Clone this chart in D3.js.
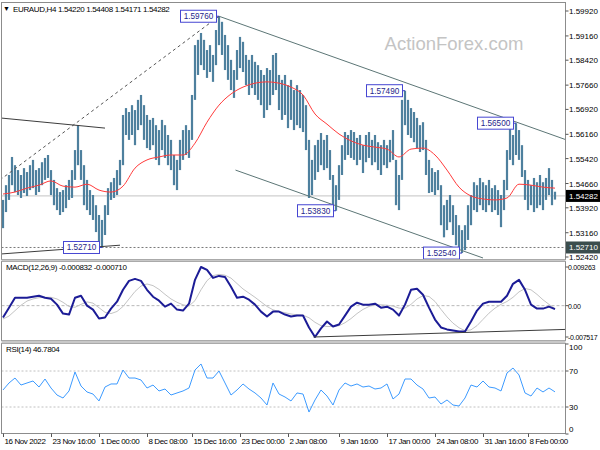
<!DOCTYPE html>
<html><head><meta charset="utf-8">
<script src="https://cdn.jsdelivr.net/npm/d3@7/dist/d3.min.js"></script>
<style>
html,body{margin:0;padding:0;background:#fff;}
svg{display:block;font-family:"Liberation Sans",Arial,sans-serif;}
</style></head><body>
<svg id="c" width="600" height="450"></svg>
<script>
// ---------- DATA ----------
const symbolTitle = "EURAUD,H4";
const lastOHLC = [1.54220, 1.54408, 1.54171, 1.54282];
const highs = [1.5416,1.5461,1.5492,1.5547,1.5522,1.5507,1.5492,1.5513,1.5501,1.5522,
1.5538,1.5507,1.5513,1.5531,1.5544,1.5553,1.5507,1.5477,1.5452,1.5440,
1.5446,1.5461,1.5477,1.5507,1.5568,1.5644,1.5568,1.5522,1.5477,1.5446,
1.5431,1.5400,1.5370,1.5355,1.5400,1.5452,1.5470,1.5483,1.5507,1.5538,
1.5675,1.5696,1.5684,1.5705,1.5690,1.5721,1.5736,1.5705,1.5675,1.5660,
1.5666,1.5644,1.5629,1.5660,1.5644,1.5614,1.5599,1.5553,1.5538,1.5599,
1.5629,1.5644,1.5629,1.5736,1.5888,1.5904,1.5925,1.5904,1.5873,1.5888,
1.5858,1.5934,1.5976,1.5959,1.5919,1.5888,1.5843,1.5812,1.5873,1.5913,
1.5898,1.5858,1.5843,1.5858,1.5837,1.5827,1.5812,1.5797,1.5818,1.5812,
1.5858,1.5864,1.5797,1.5782,1.5797,1.5766,1.5782,1.5751,1.5766,1.5751,
1.5736,1.5705,1.5599,1.5538,1.5583,1.5599,1.5620,1.5599,1.5614,1.5568,
1.5492,1.5461,1.5522,1.5583,1.5623,1.5614,1.5629,1.5623,1.5605,1.5614,
1.5583,1.5614,1.5623,1.5599,1.5614,1.5592,1.5583,1.5599,1.5583,1.5599,
1.5629,1.5538,1.5492,1.5721,1.5749,1.5721,1.5696,1.5684,1.5666,1.5644,
1.5653,1.5599,1.5538,1.5513,1.5501,1.5507,1.5461,1.5400,1.5416,1.5431,
1.5400,1.5370,1.5339,1.5324,1.5339,1.5400,1.5431,1.5470,1.5461,1.5483,
1.5470,1.5461,1.5477,1.5452,1.5461,1.5446,1.5431,1.5477,1.5568,1.5635,
1.5614,1.5650,1.5629,1.5583,1.5507,1.5477,1.5461,1.5483,1.5470,1.5492,
1.5470,1.5483,1.5513,1.5477,1.5441];
const lows = [1.5330,1.5379,1.5416,1.5461,1.5440,1.5431,1.5422,1.5437,1.5428,1.5446,
1.5452,1.5431,1.5440,1.5461,1.5477,1.5483,1.5431,1.5400,1.5385,1.5370,
1.5379,1.5391,1.5416,1.5422,1.5477,1.5522,1.5477,1.5400,1.5385,1.5370,
1.5355,1.5318,1.5278,1.5271,1.5309,1.5370,1.5416,1.5422,1.5431,1.5461,
1.5522,1.5614,1.5599,1.5614,1.5583,1.5629,1.5644,1.5599,1.5574,1.5568,
1.5583,1.5538,1.5522,1.5568,1.5544,1.5522,1.5507,1.5461,1.5446,1.5507,
1.5538,1.5553,1.5544,1.5599,1.5721,1.5797,1.5827,1.5812,1.5788,1.5806,
1.5776,1.5827,1.5888,1.5858,1.5812,1.5782,1.5751,1.5727,1.5782,1.5818,
1.5806,1.5766,1.5736,1.5757,1.5736,1.5721,1.5705,1.5666,1.5690,1.5705,
1.5736,1.5751,1.5690,1.5660,1.5675,1.5635,1.5660,1.5629,1.5644,1.5635,
1.5623,1.5568,1.5422,1.5431,1.5477,1.5501,1.5522,1.5507,1.5513,1.5477,
1.5400,1.5383,1.5416,1.5492,1.5538,1.5553,1.5544,1.5538,1.5522,1.5538,
1.5498,1.5531,1.5544,1.5522,1.5531,1.5507,1.5492,1.5522,1.5513,1.5531,
1.5538,1.5400,1.5385,1.5477,1.5644,1.5614,1.5605,1.5592,1.5574,1.5562,
1.5568,1.5492,1.5437,1.5440,1.5431,1.5446,1.5339,1.5302,1.5324,1.5348,
1.5309,1.5278,1.5263,1.5254,1.5263,1.5294,1.5339,1.5385,1.5379,1.5400,
1.5385,1.5379,1.5400,1.5379,1.5385,1.5370,1.5333,1.5385,1.5446,1.5538,
1.5522,1.5553,1.5538,1.5486,1.5416,1.5385,1.5400,1.5379,1.5391,1.5400,
1.5385,1.5416,1.5431,1.5400,1.5417];
// moving average, one value every 4 bars
const emaStep = 4;
const ema = [1.5434,1.5440,1.5452,1.5461,1.5474,1.5458,1.5455,1.5464,1.5446,1.5440,
1.5458,1.5513,1.5538,1.5547,1.5553,1.5553,1.5589,1.5653,1.5705,1.5739,
1.5760,1.5772,1.5776,1.5772,1.5760,1.5736,1.5678,1.5647,1.5617,1.5596,
1.5583,1.5577,1.5571,1.5547,1.5571,1.5574,1.5553,1.5507,1.5455,1.5428,
1.5419,1.5416,1.5422,1.5464,1.5461,1.5455,1.5452];
// MACD(12,26,9) and RSI(14), one value every 2 bars
const oscStep = 2;
const macd = [-0.00285,-0.00048,0.0019,0.0019,0.0019,0.00214,0.00238,0.0019,0.00166,0.00024,
-0.0019,-0.00214,0.0019,0.00238,0,-0.00095,-0.00309,-0.00285,-0.00071,0.00095,
0.0038,0.00594,0.00641,0.00594,0.0038,0.00214,0.00119,-0.00024,0.00048,-0.00095,
-0.00119,0.00048,0.00618,0.00926,0.00855,0.00665,0.00713,0.00689,0.00451,0.0019,
0.00214,0.00143,0.00024,-0.00143,-0.00261,-0.00143,-0.00143,-0.00214,-0.00261,-0.00238,
-0.00238,-0.00523,-0.00752,-0.00546,-0.0038,-0.00499,-0.00451,-0.00238,-0.00024,0.00071,
0.00024,0.00024,0.00048,-0.00048,-0.00024,-0.00095,-0.00238,0.00024,0.0038,0.00404,
0.00261,-0.00048,-0.00333,-0.00523,-0.0057,-0.00594,-0.00618,-0.00618,-0.0038,-0.00119,
0.00048,0.00095,0.00095,0.00095,0.00238,0.00523,0.00618,0.0038,0.00024,-0.00071,
-0.00071,-0.00024,-0.00083];
const signal = [-0.0032,-0.0025,-0.0012,0.0001,0.0011,0.0016,0.0019,0.0020,0.0020,0.0016,
0.0008,-0.0002,-0.0004,0.0003,0.0009,0.0006,-0.0005,-0.0016,-0.0019,-0.0014,
-0.0002,0.0016,0.0034,0.0047,0.0052,0.0048,0.0039,0.0027,0.0016,0.0008,
0.0002,-0.0001,0.0012,0.0038,0.0060,0.0072,0.0075,0.0073,0.0066,0.0053,
0.0040,0.0030,0.0020,0.0009,-0.0002,-0.0010,-0.0014,-0.0017,-0.0020,-0.0022,
-0.0023,-0.0029,-0.0040,-0.0048,-0.0050,-0.0050,-0.0048,-0.0041,-0.0031,-0.0019,
-0.0009,-0.0002,0.0002,0.0002,0.0001,-0.0001,-0.0006,-0.0006,0.0003,0.0016,
0.0024,0.0022,0.0010,-0.0009,-0.0027,-0.0042,-0.0053,-0.0060,-0.0058,-0.0048,
-0.0033,-0.0018,-0.0006,0.0003,0.0010,0.0020,0.0033,0.0041,0.0038,0.0027,
0.0014,0.0003,-0.0007];
const rsi = [48.9,56.7,62.2,54.4,56.7,58.9,52.2,61.1,51.1,43.3,
40.0,47.8,68.9,53.3,46.7,44.4,36.7,52.2,55.6,55.6,
71.1,62.2,62.2,60.0,51.1,54.4,47.8,50.0,43.3,45.6,
47.8,51.1,71.1,77.8,62.2,62.2,70.0,56.7,43.3,48.9,
55.6,50.0,45.6,40.0,32.2,56.7,44.4,41.1,36.7,45.6,
44.4,24.4,37.8,48.9,42.2,32.2,48.9,56.7,53.3,55.6,
52.2,53.3,50.0,51.1,55.6,38.9,44.4,61.1,61.1,54.4,
50.0,40.0,41.1,33.3,37.8,32.2,31.1,40.0,54.4,52.2,
58.9,52.2,51.1,47.8,67.8,73.3,65.6,45.6,42.2,51.1,
46.7,51.1,46.8];
const macdLast = [-0.000832, -0.000710];
const rsiLast = 46.7804;
const timeTickIdx = [0,16,32,48,63,79,95,112,128,144,160,175];
const timeTickLabels = ["16 Nov 2022","23 Nov 16:00","1 Dec 00:00","8 Dec 08:00","15 Dec 16:00","23 Dec 00:00","2 Jan 08:00","9 Jan 16:00","17 Jan 00:00","24 Jan 08:00","31 Jan 16:00","8 Feb 00:00"];
const priceTicks = [1.59920,1.59160,1.58420,1.57660,1.56920,1.56160,1.55420,1.54660,1.53920,1.53160,1.52420];
const macdTicks = [0.009263, 0, -0.007517];
const macdTickLabels = ["0.009263","0.00","-0.007517"];
const rsiTicks = [100,70,30,0];
const rsiLevels = [70,30];
const supportLevel = 1.52710;
const swingIdx = [72,134,171,111,153,33];
const swingPrice = [1.59760,1.57490,1.56500,1.53830,1.52540,1.52710];
// trend lines: [bar0, price0, bar1, price1]
const trendDashed = [[-1,1.5477,72,1.5976]];
const trendDark = [[-1,1.5666,34,1.5635],[-1,1.5251,39,1.5278]];
const trendChannel = [[72,1.5976,187.5,1.5600],[77.5,1.5507,160,1.5239]];
const macdTrend = [[103.5,-0.00752,187.5,-0.0057]];

// ---------- LAYOUT ----------
const svg = d3.select("#c");
const L = 1.5, R = 565.5;
const panels = {main:[2.5,259.5], macd:[261.5,340.5], rsi:[343.5,433.5]};
const x = d3.scaleLinear().domain([0, highs.length-1]).range([3, 555]);
const yP = d3.scaleLinear().domain([1.5242, 1.5992]).range([257, 11]);
const yM = d3.scaleLinear().domain([-0.007517, 0.009263]).range([337, 267]);
const yR = d3.scaleLinear().domain([0, 100]).range([434, 344]);

svg.append("rect").attr("width",600).attr("height",450).attr("fill","#fff");
const defs = svg.append("defs");
Object.entries(panels).forEach(([k,[t,b]])=>{
  defs.append("clipPath").attr("id","clip-"+k).append("rect")
    .attr("x",L+0.5).attr("y",t+0.5).attr("width",R-L-1).attr("height",b-t-1);
});

// watermark
svg.append("text").attr("x",454).attr("y",50).attr("text-anchor","middle")
  .attr("font-size",18.5).attr("fill","#c4c4c4").text("ActionForex.com");

// ---------- MAIN PANEL ----------
const gm = svg.append("g").attr("clip-path","url(#clip-main)");
gm.append("line").attr("x1",L).attr("x2",R).attr("y1",yP(lastOHLC[3])).attr("y2",yP(lastOHLC[3]))
  .attr("stroke","#cfcfcf").attr("stroke-width",1.2);
gm.append("line").attr("x1",L).attr("x2",R).attr("y1",yP(supportLevel)).attr("y2",yP(supportLevel))
  .attr("stroke","#7a7a7a").attr("stroke-dasharray","2,2");

// bars
gm.selectAll("rect.bar").data(highs).join("rect").attr("class","bar")
  .attr("x",(d,i)=>x(i)-1.1).attr("width",2.2)
  .attr("y",(d,i)=>yP(d)).attr("height",(d,i)=>Math.max(1,yP(lows[i])-yP(d)))
  .attr("fill","#4e809e");

// EMA
const emaLine = d3.line().x((d,k)=>x(k*emaStep)).y(d=>yP(d)).curve(d3.curveMonotoneX);
gm.append("path").attr("d",emaLine(ema)).attr("fill","none").attr("stroke","#ff3b3b").attr("stroke-width",1);

// trend lines
function drawTrend(g, arr, ys, stroke, dash, w){
  g.selectAll(null).data(arr).join("line")
   .attr("x1",d=>x(d[0])).attr("y1",d=>ys(d[1])).attr("x2",d=>x(d[2])).attr("y2",d=>ys(d[3]))
   .attr("stroke",stroke).attr("stroke-width",w||1).attr("stroke-dasharray",dash||null);
}
drawTrend(gm, trendDashed, yP, "#555", "3,3");
drawTrend(gm, trendDark, yP, "#3c3c3c");
drawTrend(gm, trendChannel, yP, "#5c7676");

// swing labels
swingIdx.forEach((bi,k)=>{
  const xb = x(bi), yb = yP(swingPrice[k]);
  const bw = 36, bh = 12, bx = xb - 3 - bw;
  gm.append("line").attr("x1",bx+bw).attr("x2",xb).attr("y1",yb).attr("y2",yb).attr("stroke","#3a3ac8");
  gm.append("rect").attr("x",bx+0.5).attr("y",yb-bh/2).attr("width",bw).attr("height",bh)
    .attr("fill","#fff").attr("stroke","#4646d2").attr("stroke-width",1);
  gm.append("text").attr("x",bx+0.5+bw/2).attr("y",yb+3).attr("text-anchor","middle")
    .attr("font-size",8.2).attr("fill","#26268a").text(swingPrice[k].toFixed(5));
});

// title
svg.append("text").attr("x",3).attr("y",11).attr("font-size",7).attr("fill","#000").text("▼");
svg.append("text").attr("x",13).attr("y",12).attr("font-size",8).attr("letter-spacing",-0.35).attr("fill","#000")
  .text(symbolTitle+"  "+lastOHLC.map(v=>v.toFixed(5)).join(" "));

// ---------- MACD PANEL ----------
const gmc = svg.append("g").attr("clip-path","url(#clip-macd)");
gmc.append("line").attr("x1",L).attr("x2",R).attr("y1",yM(0)).attr("y2",yM(0))
  .attr("stroke","#b8b8b8").attr("stroke-dasharray","3,2");
const oscLine = ys => d3.line().x((d,k)=>x(k*oscStep)).y(d=>ys(d));
gmc.append("path").attr("d",oscLine(yM)(signal)).attr("fill","none").attr("stroke","#c4c4c4").attr("stroke-width",1);
gmc.append("path").attr("d",oscLine(yM)(macd)).attr("fill","none").attr("stroke","#1c1c96").attr("stroke-width",2).attr("stroke-linejoin","round");
drawTrend(gmc, macdTrend, yM, "#3c3c3c");
svg.append("text").attr("x",6).attr("y",270).attr("font-size",8).attr("letter-spacing",-0.35)
  .text("MACD(12,26,9) "+macdLast.map(v=>v.toFixed(6)).join(" "));

// ---------- RSI PANEL ----------
const gr = svg.append("g").attr("clip-path","url(#clip-rsi)");
gr.selectAll(null).data(rsiLevels).join("line").attr("x1",L).attr("x2",R)
  .attr("y1",d=>yR(d)).attr("y2",d=>yR(d)).attr("stroke","#c0c0c0").attr("stroke-dasharray","2,2");
gr.append("path").attr("d",oscLine(yR)(rsi)).attr("fill","none").attr("stroke","#3d9bff").attr("stroke-width",1);
svg.append("text").attr("x",6).attr("y",352).attr("font-size",8).attr("letter-spacing",-0.35)
  .text("RSI(14) "+rsiLast.toFixed(4));

// ---------- FRAMES ----------
Object.values(panels).forEach(([t,b])=>{
  svg.append("rect").attr("x",L).attr("y",t).attr("width",R-L).attr("height",b-t)
    .attr("fill","none").attr("stroke","#8c8c8c").attr("stroke-width",1);
});
svg.append("rect").attr("x",L).attr("y",259.5).attr("width",R-L).attr("height",2).attr("fill","#c8c8c8");
svg.append("rect").attr("x",L).attr("y",340.5).attr("width",R-L).attr("height",3).attr("fill","#c8c8c8");

// ---------- RIGHT AXES ----------
const ax = svg.append("g").attr("font-size",8).attr("fill","#000");
priceTicks.forEach(v=>{
  const yy = yP(v);
  ax.append("line").attr("x1",R).attr("x2",R+3).attr("y1",yy).attr("y2",yy).attr("stroke","#555");
  ax.append("text").attr("x",569).attr("y",yy+3).text(v.toFixed(5));
});
[[lastOHLC[3],"#000"],[supportLevel,"#3b4d4d"]].forEach(([v,c])=>{
  const yy = yP(v);
  ax.append("rect").attr("x",566).attr("y",yy-6).attr("width",34).attr("height",12).attr("fill",c);
  ax.append("text").attr("x",569).attr("y",yy+3).attr("fill","#fff").text(v.toFixed(5));
});
macdTicks.forEach((v,k)=>{
  const yy = yM(v);
  ax.append("line").attr("x1",R).attr("x2",R+3).attr("y1",yy).attr("y2",yy).attr("stroke","#555");
  ax.append("text").attr("x",568).attr("y",yy+3).attr("font-size",7).attr("letter-spacing",-0.25)
    .text(macdTickLabels[k]);
});
rsiTicks.forEach(v=>{
  const yy = Math.min(Math.max(yR(v),347),429);
  ax.append("line").attr("x1",R).attr("x2",R+3).attr("y1",yR(v)).attr("y2",yR(v)).attr("stroke","#555");
  ax.append("text").attr("x",569).attr("y",yy+3).text(v);
});

// ---------- TIME AXIS ----------
timeTickIdx.forEach((bi,k)=>{
  const xx = Math.round(x(bi))+0.5;
  ax.append("line").attr("x1",xx).attr("x2",xx).attr("y1",433.5).attr("y2",437).attr("stroke","#555");
  ax.append("text").attr("x",xx+1).attr("y",444).attr("letter-spacing",-0.4).text(timeTickLabels[k]);
});
</script>
</body></html>
